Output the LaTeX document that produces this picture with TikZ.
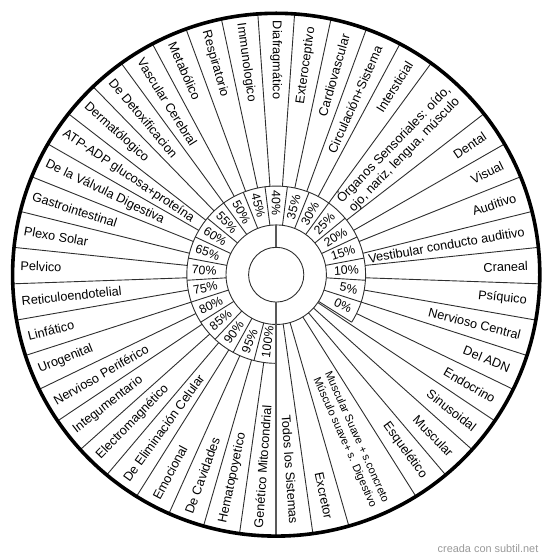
\documentclass[tikz,border=0pt]{standalone}
\usepackage{fontspec}
\setmainfont{Liberation Sans}
\begin{document}
\begin{tikzpicture}[x=1.0042pt,y=0.9958pt,
  seg/.style={draw=black!82, line width=0.9pt},
  axisline/.style={draw=black!65, line width=1.8pt},
  rim/.style={draw=black, line width=3.6pt},
  lab/.style={inner sep=0pt, font=\fontsize{12.7}{14.5}\selectfont},
  pct/.style={inner sep=0pt, font=\fontsize{12.3}{14}\selectfont},
  credit/.style={inner sep=0pt, text=black!40, font=\fontsize{10.9}{12}\selectfont}]
\useasboundingbox (-276.2pt,-284.3pt) rectangle (273.8pt,274.7pt);
\coordinate (C) at (0,0);
% sector boundaries of the outer ring
\foreach \k in {0,...,44}{
  \pgfmathtruncatemacro\ang{6+8*\k}
  \ifnum\ang=46 \else\ifnum\ang=294 \else\ifnum\ang=270 \else
    \ifnum\ang<270 \def\rin{89}\else\ifnum\ang>327 \def\rin{89}\else\def\rin{50}\fi\fi
    \draw[seg] (\ang:\rin) -- (\ang:262.5);
  \fi\fi\fi
}
% percentage cell boundaries
\foreach \j in {0,...,20}{
  \pgfmathsetmacro\b{-32.4+14.4*\j}
  \draw[seg] (\b:50) -- (\b:89);
}
% circles
\draw[seg] (C) circle[radius=27.5];
\draw[seg] (C) circle[radius=50];
\draw[seg] (-32.4:89) arc[start angle=-32.4, end angle=270, radius=89];
\draw[axisline] (90:27.5) -- (90:50);
\draw[axisline] (270:27.5) -- (270:262.5);
\draw[rim] (C) circle[radius=262.5];
% percentage labels
\foreach \i in {0,...,20}{
  \pgfmathtruncatemacro\p{5*\i}
  \pgfmathsetmacro\a{90+(\i-8)*14.4}
  \ifnum\i<8
    \node[pct, rotate=\a, anchor=east] (P\i) at (\a:82.5) {\p\%};
  \else
    \pgfmathsetmacro\rot{\a+180}
    \node[pct, rotate=\rot, anchor=west] (P\i) at (\a:84.3) {\p\%};
  \fi
}
% right-half labels
\foreach \a/\t [count=\i] in {82/Exteroceptivo, 74/Cardiovascular, 66/Circulación+Sistema,
  58/Intersticial, 34/Dental, 26/Visual, 18/Auditivo, 10/Vestibular conducto auditivo,
  2/Craneal, -6/Psíquico, -14/Nervioso Central, -22/Del ADN, -30/Endocrino,
  -38/Sinusoidal, -46/Muscular, -54/Esquelético, -78/Excretor, -86/Todos los Sistemas}{
  \node[lab, rotate=\a, anchor=east] (R\i) at (\a:251) {\t};
}
\node[lab, rotate=46, anchor=east, align=center, font=\fontsize{12.85}{14.5}\selectfont]
  (Org) at (46:254) {Órganos Sensoriales: oído,\\ojo, nariz, lengua, músculo};
\node[lab, rotate=-66, anchor=east, align=center, font=\fontsize{11}{13}\selectfont]
  (MS) at (-66:253) {Muscular Suave + s.concreto\\Músculo suave+ s. Digestivo};
% left-half labels
\foreach \a/\t [count=\i] in {90/Diafragmático, 98/Immunologico, 106/Respiratorio,
  114/Metabólico, 122/Vascular Cerebral, 130/De Detoxificacion, 138/Dermatólogico,
  146/ATP-ADP glucosa+proteína, 154/De la Válvula Digestiva, 162/Gastrointestinal,
  170/Plexo Solar, 178/Pelvico, 186/Reticuloendotelial, 194/Linfático, 202/Urogenital,
  210/Nervioso Periférico, 218/Integumentario, 226/Electromagnético,
  234/De Eliminación Celular, 242/Emocional, 250/De Cavidades, 258/Hematopoyetico,
  266/Genético Mitocondrial}{
  \pgfmathsetmacro\r{\a+180}
  \node[lab, rotate=\r, anchor=west] (L\i) at (\a:255) {\t};
}
\node[credit, anchor=base east] (credit) at (262.3pt,-277.6pt) {creada con subtil.net};
\end{tikzpicture}
\end{document}
